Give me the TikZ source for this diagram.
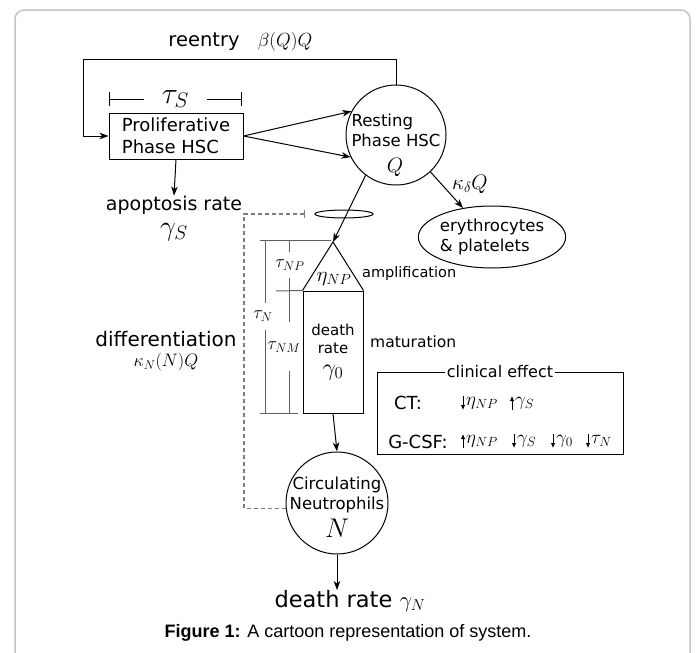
\RequirePackage{fix-cm}
\documentclass[tikz,border=0pt]{standalone}
\usepackage{fontspec}
\setmainfont{DejaVu Sans}
\newfontfamily\captionfont{Liberation Sans}
\usepackage{tikz}
\usetikzlibrary{arrows.meta}
\usetikzlibrary{shapes.geometric}
\usetikzlibrary{positioning}
\definecolor{framegray}{RGB}{196,196,196}
\definecolor{dashgray}{RGB}{125,125,125}
\definecolor{bracegray}{RGB}{95,95,95}
\newcommand{\setfs}[2]{\fontsize{#1pt}{#2pt}\selectfont}
\tikzset{
  cartoon/.style={
    flow/.style={-{Stealth[length=9pt,width=6.5pt,inset=2.5pt]}, line width=1pt},
    plain/.style={line width=1pt},
    cell/.style={draw, line width=1pt, inner sep=0pt, align=center},
    label text/.style={inner sep=0pt, align=center},
    tick line/.style={bracegray, line width=1pt},
    feedback/.style={dashgray, line width=1.1pt, dash pattern=on 4pt off 3pt},
    effect/.style={-{Latex[length=5pt,width=4.5pt]}, line width=0.8pt},
  }
}

\begin{document}
\begin{tikzpicture}[cartoon, x=1pt, y=-1pt]
    \useasboundingbox (0,0) rectangle (697,653);
    \draw[framegray, line width=1.5pt, rounded corners=9pt]
        (15,670) -- (15,10) -- (690,10) -- (690,670);

    % stem cells
    \node[cell, minimum width=134pt, minimum height=46pt, align=left,
          font={\setfs{18}{22}}] (prolif) at (176,136) {Proliferative\\Phase HSC};
    \draw[plain, {Bar[width=14pt]}-{Bar[width=14pt]}] (109,99) --
        node[fill=white, inner xsep=18pt, inner ysep=0pt, font={\setfs{30}{30}}] (tauS) {$\tau_S$}
        (242,99);

    \node[cell, circle, minimum size=100pt] (resting) at (396,135) {};
    \node[label text, align=left, font={\setfs{16.5}{20}}] (restxt) at (396,130) {Resting\\Phase HSC};
    \node[label text, font={\setfs{21}{21}}] (Q) at (395,167) {$Q$};

    \coordinate (reentry) at (83,59);
    \draw[flow] (resting.north) |- (reentry) |- (prolif.west);
    \node[label text, font={\setfs{19.5}{20}}] (reentrytxt) at (204,42) {reentry};
    \node[label text, font={\setfs{19}{19}}] (beta) at (285,42) {$\beta(Q)Q$};

    \draw[flow] (prolif.east) -- (resting.152);
    \draw[flow] (prolif.east) -- (resting.206);

    \node[label text, font={\setfs{19}{20}}] (apopt) at (174,205) {apoptosis rate};
    \node[label text, font={\setfs{28}{28}}] (gammaS) at (174,232) {$\gamma_S$};
    \draw[flow] (prolif.south) -- (apopt.north);

    \node[cell, ellipse, minimum width=134pt, minimum height=62pt, align=left,
          font={\setfs{16.5}{19.5}}] (ery) at (492,237) {erythrocytes\\\& platelets};
    \draw[flow] (resting.313) -- (ery.135);
    \node[label text, font={\setfs{21}{21}}] (kdelta) at (470,184) {$\kappa_\delta Q$};

    % neutrophil line
    \node[cell, ellipse, minimum width=58pt, minimum height=8pt] (ring) at (344,214) {};
    \coordinate (apex) at (333,242);
    \draw[flow] (resting.233) -- (apex);

    \node[cell, minimum width=60pt, minimum height=122pt, font={\setfs{15}{18}}] (matur) at (333,352)
        {death\\rate\\[4pt]{\setfs{24}{24}$\gamma_0$}};
    \draw[plain] (matur.north west) -- (apex) -- (matur.north east);
    \node[label text, font={\setfs{21}{21}}] (eta) at (334,279) {$\eta_{NP}$};
    \node[label text, anchor=west, font={\setfs{14.5}{15}}] (ampl) at (362,273) {amplification};
    \node[label text, anchor=west, font={\setfs{15.5}{16}}] (matlab) at (370,342) {maturation};

    \draw[tick line] (260,240) -- (331,240);
    \draw[tick line] (260,413) -- (298,413);
    \draw[tick line] (276,291) -- (matur.north west);
    \foreach \x/\ya/\yb in {265/240/303, 265/330/413, 289/240/252, 289/278/322, 289/371/413}
        \draw[tick line] (\x,\ya) -- (\x,\yb);
    \node[label text, font={\setfs{18}{18}}] (tauN) at (263,316) {$\tau_N$};
    \node[label text, font={\setfs{18}{18}}] (tauNP) at (290,265) {$\tau_{NP}$};
    \node[label text, font={\setfs{18}{18}}] (tauNM) at (284,347) {$\tau_{NM}$};

    \node[cell, circle, minimum size=102pt] (circ) at (337,503) {};
    \node[label text, font={\setfs{16.5}{20}}] (circtxt) at (337,495) {Circulating\\Neutrophils};
    \node[label text, font={\setfs{27}{27}}] (N) at (337,528) {$N$};
    \draw[flow] (matur.south) -- (circ.north);

    \node[label text, font={\setfs{22.5}{23}}] (deathN) at (350,601) {death rate $\gamma_N$};
    \draw[flow] (circ.south) -- (circ.south |- deathN.north);

    % feedback
    \coordinate (fbturn) at (244,214);
    \coordinate (fbend) at (305,214);
    \draw[feedback, -{Bar[width=8pt]}] (circ.186) -| (fbturn) -- (fbend);
    \node[label text, font={\setfs{20}{20}}] (diff) at (166,339) {differentiation};
    \node[label text, font={\setfs{18}{18}}] (kappaN) at (166,362) {$\kappa_N(N)Q$};

    % clinical effect
    \node[cell, minimum width=246pt, minimum height=82pt] (clin) at (500,413) {};
    \node[label text, fill=white, inner xsep=2pt, font={\setfs{16}{16}}] (clintitle) at (clin.north) {clinical effect};
    \node[label text, font={\setfs{18}{18}}] (ct) at (408,403) {CT:};
    \node[label text, font={\setfs{18}{18}}] (gcsf) at (418,442) {G-CSF:};
    \foreach \x/\y/\dir/\sym in {463/403/1/\eta_{NP}, 512/403/-1/\gamma_S,
                                 463/441/-1/\eta_{NP}, 514/441/1/\gamma_S,
                                 553/441/1/\gamma_0, 588/441/1/\tau_N}{
        \draw[effect] (\x,{\y-7*\dir}) -- (\x,{\y+7*\dir});
        \node[label text, anchor=west, font={\setfs{19}{19}}] at (\x+3,\y) {$\sym$};
    }

    \node[label text, font={\captionfont\setfs{18}{18}}] (caption) at (348,633)
        {\textbf{Figure 1:} A cartoon representation of system.};
\end{tikzpicture}
\end{document}
